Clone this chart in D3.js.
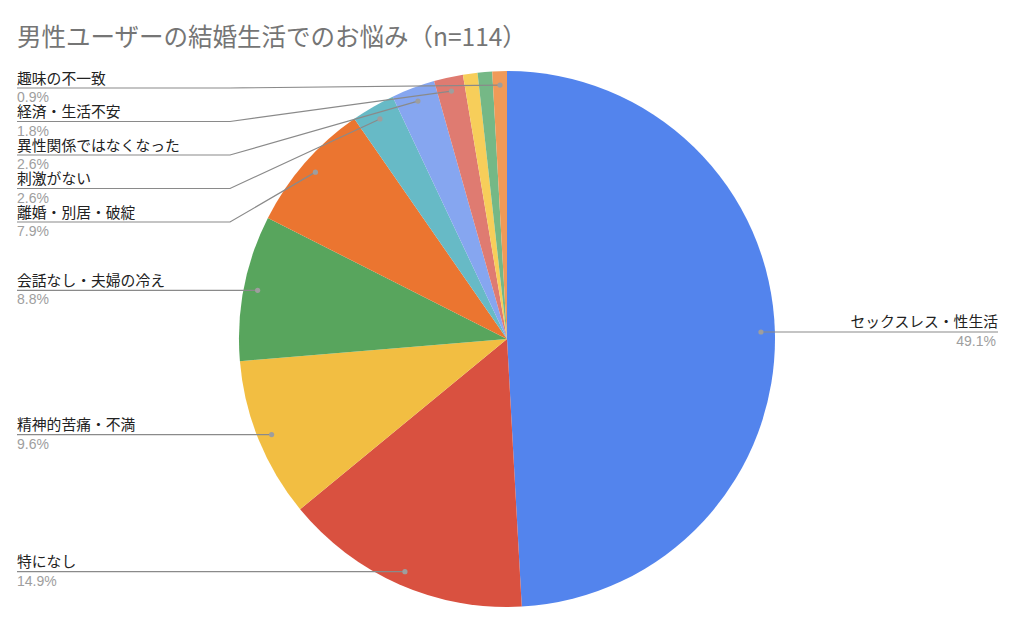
<!DOCTYPE html>
<html><head><meta charset="utf-8">
<script src="https://cdn.jsdelivr.net/npm/d3@7"></script>
<style>
html,body{margin:0;padding:0;background:#fff;}
svg{display:block;}
</style></head>
<body>
<svg id="chart" width="1024" height="629"></svg>
<script>
const title = "男性ユーザーの結婚生活でのお悩み（n=114）";
const categories = ["セックスレス・性生活","特になし","精神的苦痛・不満","会話なし・夫婦の冷え","離婚・別居・破綻","刺激がない","異性関係ではなくなった","経済・生活不安","その他A","その他B","趣味の不一致"];
const values = [56,17,11,10,9,3,3,2,1,1,1];
const showLabel = [true,true,true,true,true,true,true,true,false,false,true];
const colors = ["#5384ED","#D95140","#F2BE42","#58A55D","#EB7530","#67BAC6","#86A6F0","#DF7B71","#F7CE5A","#75B886","#F09A58"];

const svg = d3.select("#chart");
const cx = 507, cy = 339, R = 268;
const font = "'Liberation Sans','Noto Sans CJK JP',sans-serif";

svg.append("text").attr("x",17).attr("y",46)
  .attr("font-family","'Noto Sans CJK JP',sans-serif").attr("font-size",24.5)
  .attr("fill","#757575").text(title);

const total = d3.sum(values);
const pie = d3.pie().sort(null).value(d=>d.v);
const data = categories.map((c,i)=>({c, v:values[i], col:colors[i], show:showLabel[i]}));
const arcs = pie(data);
const arc = d3.arc().innerRadius(0).outerRadius(R);
const g = svg.append("g").attr("transform",`translate(${cx},${cy})`);
g.selectAll("path").data(arcs).join("path").attr("d",arc).attr("fill",d=>d.data.col);

const fmt = v => (Math.round(v/total*1000)/10).toFixed(1)+"%";
const dotR = R*0.948;
const pts = arcs.map(a=>{
  const m=(a.startAngle+a.endAngle)/2;
  return {a, m, x: cx+Math.sin(m)*dotR, y: cy-Math.cos(m)*dotR};
});

const fs = 14.8, pfs = 14;
const lab = svg.append("g");
// right side
pts.filter(p=>p.a.data.show && p.m < Math.PI).forEach(p=>{
  const xEnd = 998;
  lab.append("line").attr("x1",p.x).attr("y1",p.y).attr("x2",xEnd).attr("y2",p.y)
    .attr("stroke","#8a8a8a").attr("stroke-width",1.2);
  lab.append("circle").attr("cx",p.x).attr("cy",p.y).attr("r",2.6).attr("fill","#9e9e9e");
  lab.append("text").attr("x",xEnd).attr("y",p.y-5).attr("text-anchor","end")
    .attr("font-family",font).attr("font-size",fs).attr("fill","#222").text(p.a.data.c);
  lab.append("text").attr("x",xEnd-2).attr("y",p.y+14.5).attr("text-anchor","end")
    .attr("font-family",font).attr("font-size",pfs).attr("fill","#9e9e9e").text(fmt(p.a.data.v));
});
// left side: stack top to bottom
const left = pts.filter(p=>p.a.data.show && p.m >= Math.PI).sort((a,b)=>a.y-b.y);
let prev = -Infinity;
const minY = 88, gap = 33.5, xStart = 17, knee = 230;
left.forEach(p=>{
  const ly = Math.max(p.y, prev+gap, minY);
  prev = ly;
  const path = d3.path();
  path.moveTo(xStart, ly);
  if (Math.abs(ly-p.y) > 0.5) { path.lineTo(knee, ly); }
  path.lineTo(p.x, p.y);
  lab.append("path").attr("d",path.toString()).attr("fill","none")
    .attr("stroke","#8a8a8a").attr("stroke-width",1.2);
  lab.append("circle").attr("cx",p.x).attr("cy",p.y).attr("r",2.6).attr("fill","#9e9e9e");
  lab.append("text").attr("x",xStart).attr("y",ly-4.5)
    .attr("font-family",font).attr("font-size",fs).attr("fill","#222").text(p.a.data.c);
  lab.append("text").attr("x",xStart).attr("y",ly+14)
    .attr("font-family",font).attr("font-size",pfs).attr("fill","#9e9e9e").text(fmt(p.a.data.v));
});
</script>
</body></html>
